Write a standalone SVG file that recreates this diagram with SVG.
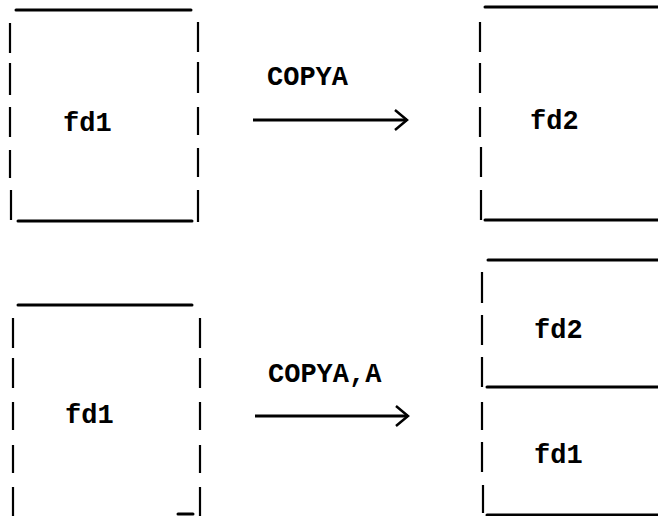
<svg xmlns="http://www.w3.org/2000/svg" width="658" height="516" viewBox="0 0 658 516">
<defs>
<style>
.h{stroke:#000;stroke-width:3;stroke-linecap:round}
.v{stroke:#000;stroke-width:2.2}
.t{font-family:"Liberation Mono","DejaVu Sans Mono",monospace;font-weight:bold;font-size:27px;fill:#000}
.c{stroke:#000;stroke-width:3;fill:none}
</style>
<marker id="chev" markerWidth="16" markerHeight="22" refX="14" refY="11" orient="auto" markerUnits="userSpaceOnUse">
<path d="M2,1 L14,11 L2,21" fill="none" stroke="#000" stroke-width="2.5"/>
</marker>
</defs>
<rect width="658" height="516" fill="#fff"/>

<g id="box-fd1-top">
<line class="h" x1="16" y1="10" x2="191" y2="10"/>
<path class="v" d="M10,23V53M10,63V95M10,107V137M10,150V178M11,190V220"/>
<path class="v" d="M198,22V52M198,62V93M198,107V135M198,148V177M198,190V222"/>
<line class="h" x1="18" y1="221" x2="192" y2="221"/>
<text class="t" x="63" y="131">fd1</text>
</g>

<g id="box-fd2-top">
<line class="h" x1="485" y1="7" x2="658" y2="7"/>
<path class="v" d="M480,22V52M480,63V93M480,107V137M481,147V177M481,190V220"/>
<line class="h" x1="485" y1="220" x2="658" y2="220"/>
<text class="t" x="530" y="129">fd2</text>
</g>

<g id="box-fd1-bottom">
<line class="h" x1="18" y1="305" x2="192" y2="305"/>
<path class="v" d="M13,318V348M13,358V388M13,402V430M13,445V473M13,487V516"/>
<path class="v" d="M200,318V348M200,358V388M200,402V430M200,445V473M200,487V516"/>
<line class="h" x1="178" y1="514" x2="193" y2="514"/>
<text class="t" x="65" y="423">fd1</text>
</g>

<g id="stack-right">
<line class="h" x1="488" y1="260" x2="658" y2="260"/>
<path class="v" d="M482,272V303M482,315V345M482,357V387M482,402V430M482,442V472M483,485V513"/>
<line class="h" x1="487" y1="387" x2="658" y2="387"/>
<line class="h" x1="487" y1="515" x2="658" y2="515"/>
<g id="box-fd2-bottom"><text class="t" x="534" y="338">fd2</text></g>
<g id="box-fd1-stack"><text class="t" x="534" y="463">fd1</text></g>
</g>

<g id="connectors">
<line class="c" x1="253" y1="120" x2="407" y2="120" marker-end="url(#chev)"/>
<text class="t" x="267" y="85">COPYA</text>
<line class="c" x1="255" y1="416" x2="408" y2="416" marker-end="url(#chev)"/>
<text class="t" x="268" y="382">COPYA,A</text>
</g>
</svg>
